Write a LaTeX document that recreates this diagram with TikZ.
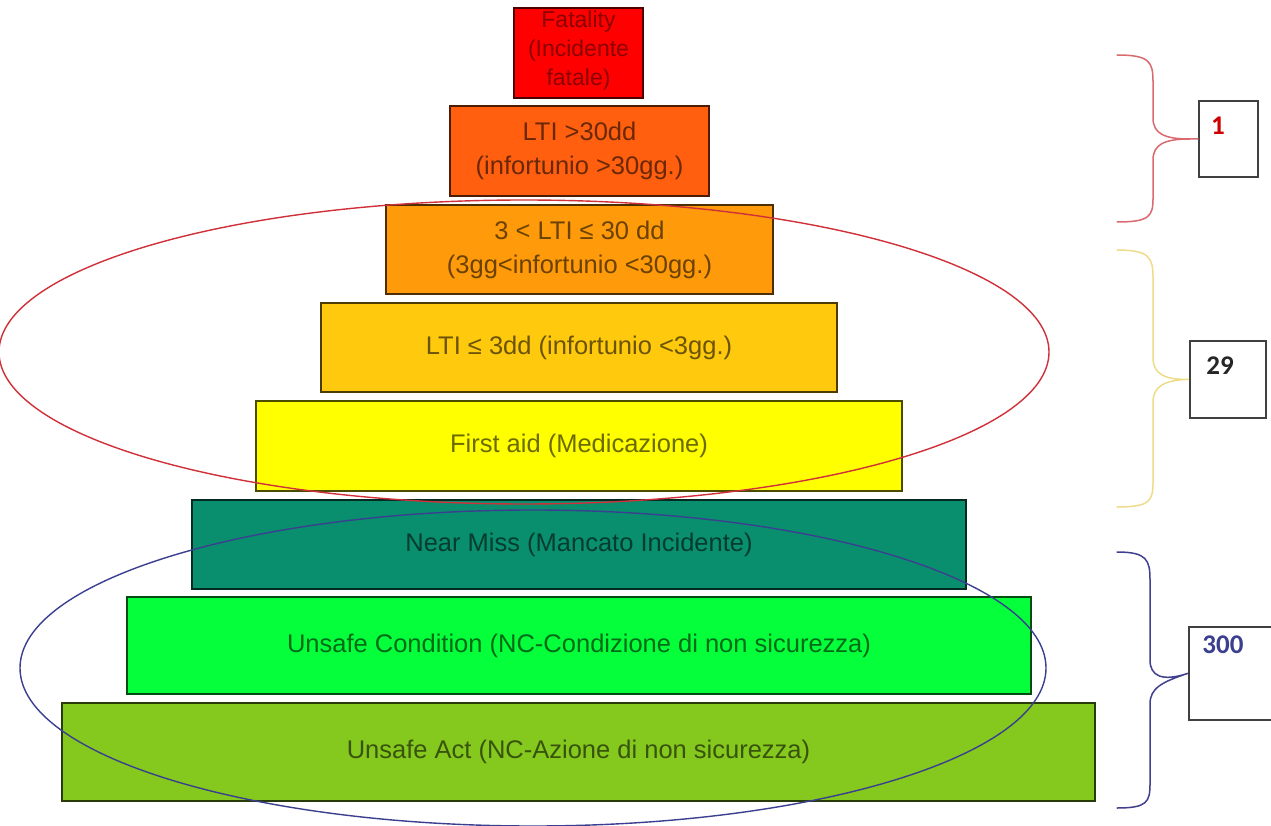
\documentclass[tikz,border=0pt]{standalone}
\usepackage{fontspec}
\setmainfont{Liberation Sans}
\newfontfamily\numfont{Carlito}
\definecolor{cFat}{HTML}{FF0000}
\definecolor{cLa}{HTML}{FF5F0F}
\definecolor{cLb}{HTML}{FF9A0A}
\definecolor{cLc}{HTML}{FFC90E}
\definecolor{cFA}{HTML}{FFFF00}
\definecolor{cNM}{HTML}{0A8F6E}
\definecolor{cUC}{HTML}{05FF3A}
\definecolor{cUA}{HTML}{85C81E}
\definecolor{braceRed}{HTML}{D86A70}
\definecolor{braceYel}{HTML}{EEDC8A}
\definecolor{braceBlue}{HTML}{40408F}
\definecolor{ellRed}{HTML}{D0303A}
\definecolor{ellBlue}{HTML}{3A3F8F}
\tikzset{
  lvl/.style={draw=#1!30!black, fill=#1, line width=2.5pt, text=#1!42!black,
    inner sep=0pt, align=center, font=\fontsize{25.5}{34}\selectfont},
  numbox/.style={draw=black!75, line width=1.6pt, fill=white, inner sep=0pt},
  numtext/.style={font=\numfont\bfseries\fontsize{27}{27}\selectfont, inner sep=0pt},
  bracepath/.style={line width=1.5pt, line cap=round},
  ell/.style={line width=1.4pt}
}
\begin{document}
\begin{tikzpicture}[x=1pt,y=-1pt]
\clip (0,0) rectangle (1271,826);
\fill[white] (0,0) rectangle (1271,826);

% pyramid levels
\node[lvl=cFat, minimum width=129, minimum height=90] (fat) at (578.5,53) {};
\node[text=cFat!55!black, align=center, inner sep=0pt, font=\fontsize{23}{29}\selectfont] (fattext) at (578.5,51) {Fatality\\(Incidente\\fatale)};
\node[lvl=cLa, minimum width=259, minimum height=90] (lta) at (579.5,151) {LTI >30dd\\(infortunio >30gg.)};
\node[lvl=cLb, minimum width=387, minimum height=89] (ltb) at (579.5,249.5) {3 < LTI ≤ 30 dd\\(3gg<infortunio <30gg.)};
\node[lvl=cLc, minimum width=516, minimum height=89] (ltc) at (579,347.5) {LTI ≤ 3dd (infortunio <3gg.)};
\node[lvl=cFA, minimum width=646, minimum height=90] (fa) at (579,446) {First aid (Medicazione)};
\node[lvl=cNM, minimum width=774, minimum height=89] (nm) at (579,544.5) {Near Miss (Mancato Incidente)};
\node[lvl=cUC, minimum width=904, minimum height=97] (uc) at (579,645.5) {Unsafe Condition (NC-Condizione di non sicurezza)};
\node[lvl=cUA, minimum width=1033, minimum height=98] (ua) at (578.5,752) {Unsafe Act (NC-Azione di non sicurezza)};

% ellipses
\draw[ell, ellRed] (524,352) ellipse [x radius=525, y radius=152];
\draw[ell, ellBlue] (533,668) ellipse [x radius=513, y radius=158];

% number boxes
\node[numbox, minimum width=59, minimum height=76, anchor=north west] (n1) at (1198,100) {};
\node[numtext, text=red!80!black] (t1) at (1218,126) {1};
\node[numbox, minimum width=76, minimum height=77, anchor=north west] (n29) at (1189,340) {};
\node[numtext, text=black!85] (t29) at (1220,366) {29};
\node[numbox, minimum width=110, minimum height=93, anchor=north west] (n300) at (1188,626) {};
\node[numtext, text=ellBlue] (t300) at (1223,645) {300};

% braces
\coordinate (tip1) at (1190,139);
\draw[bracepath, braceRed] (1117,55) .. controls (1150,55) and (1153,62) .. (1153,82)
  -- (1153,118) .. controls (1153,134) and (1165,139) .. (tip1)
  .. controls (1165,139) and (1153,144) .. (1153,160)
  -- (1153,198) .. controls (1153,216) and (1150,222) .. (1117,222);
\draw[bracepath, braceRed] (tip1) -- (n1.west);

\draw[bracepath, braceYel] (1117,250) .. controls (1150,250) and (1153,258) .. (1153,278)
  -- (1153,358) .. controls (1153,374) and (1165,380) .. (n29.west)
  .. controls (1165,380) and (1153,386) .. (1153,402)
  -- (1153,482) .. controls (1153,501) and (1150,507) .. (1117,507);

\draw[bracepath, braceBlue] (1117,552) .. controls (1147,552) and (1150,560) .. (1150,580)
  -- (1150,660) .. controls (1150,676) and (1162,682) .. (n300.west)
  .. controls (1162,682) and (1150,688) .. (1150,704)
  -- (1150,784) .. controls (1150,802) and (1147,808) .. (1117,808);
\end{tikzpicture}
\end{document}
